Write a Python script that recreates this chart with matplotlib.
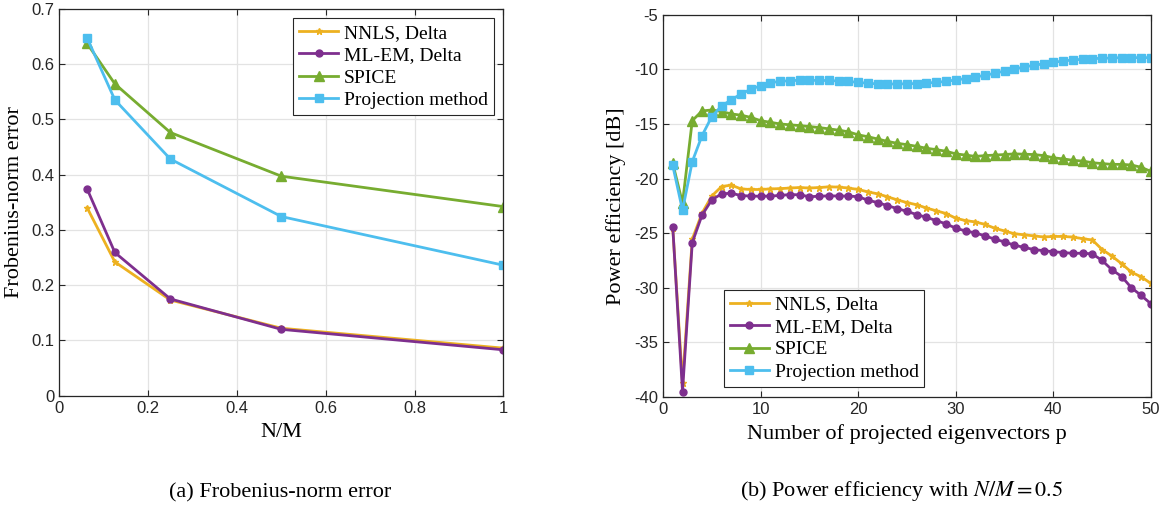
import matplotlib
matplotlib.use("Agg")
import matplotlib.pyplot as plt

# (a) Frobenius-norm error vs N/M
nm_ratio = [1 / 16, 1 / 8, 1 / 4, 1 / 2, 1]
frob_nnls = [0.340, 0.242, 0.173, 0.122, 0.086]
frob_mlem = [0.374, 0.259, 0.175, 0.120, 0.083]
frob_spice = [0.637, 0.564, 0.476, 0.397, 0.342]
frob_proj = [0.647, 0.535, 0.428, 0.324, 0.236]

# (b) Power efficiency [dB] vs number of projected eigenvectors p
p_vals = list(range(1, 51))
pe_nnls = [-24.5, -38.7, -25.55, -23.17, -21.6, -20.73, -20.6, -20.95, -21.0, -21.0,
           -20.95, -20.92, -20.87, -20.82, -20.87, -20.82, -20.76, -20.78, -20.87, -21.0,
           -21.22, -21.4, -21.67, -21.95, -22.2, -22.4, -22.7, -22.95, -23.2, -23.63,
           -23.85, -23.97, -24.2, -24.55, -24.8, -25.05, -25.15, -25.25, -25.35, -25.3,
           -25.3, -25.36, -25.5, -25.63, -26.5, -27.1, -27.8, -28.57, -29.0, -29.6]
pe_mlem = [-24.4, -39.5, -25.86, -23.35, -21.95, -21.4, -21.34, -21.56, -21.6, -21.62,
           -21.6, -21.55, -21.46, -21.49, -21.66, -21.62, -21.58, -21.6, -21.6, -21.66,
           -21.98, -22.2, -22.48, -22.75, -23.0, -23.3, -23.55, -23.85, -24.15, -24.54,
           -24.8, -24.97, -25.25, -25.55, -25.8, -26.1, -26.3, -26.5, -26.6, -26.7,
           -26.77, -26.85, -26.83, -26.9, -27.5, -28.35, -28.97, -30.0, -30.7, -31.47]
pe_spice = [-18.6, -22.25, -14.7, -13.81, -13.72, -13.87, -14.08, -14.2, -14.4, -14.7,
            -14.85, -15.0, -15.08, -15.15, -15.24, -15.33, -15.45, -15.57, -15.72, -16.0,
            -16.17, -16.38, -16.6, -16.77, -16.9, -17.05, -17.23, -17.35, -17.5, -17.74,
            -17.85, -17.97, -17.9, -17.85, -17.8, -17.74, -17.77, -17.8, -17.9, -18.1,
            -18.2, -18.33, -18.4, -18.55, -18.63, -18.7, -18.7, -18.76, -18.97, -19.35]
pe_proj = [-18.8, -22.9, -18.45, -16.07, -14.33, -13.35, -12.8, -12.25, -11.83, -11.5,
           -11.22, -11.1, -11.04, -11.0, -11.0, -11.02, -11.02, -11.07, -11.1, -11.2,
           -11.27, -11.34, -11.34, -11.34, -11.32, -11.3, -11.25, -11.2, -11.1, -10.97,
           -10.85, -10.7, -10.55, -10.36, -10.15, -9.97, -9.79, -9.63, -9.5, -9.36,
           -9.24, -9.14, -9.08, -9.02, -8.99, -8.96, -8.93, -8.93, -8.93, -8.93]

labels = ["NNLS, Delta", "ML-EM, Delta", "SPICE", "Projection method"]
colors = ["#EDB120", "#7E2F8E", "#77AC30", "#4DBEEE"]
markers = ["*", "o", "^", "s"]
msizes = [5, 5, 7, 6]

plt.rcParams["font.family"] = ["Liberation Sans", "DejaVu Sans"]
plt.rcParams["mathtext.fontset"] = "stix"
plt.rcParams["axes.unicode_minus"] = False
serif = ["Liberation Serif", "DejaVu Serif"]

fig = plt.figure(figsize=(11.66, 5.09), dpi=100)
ax1 = fig.add_axes([0.0509, 0.2226, 0.3808, 0.7604])
ax2 = fig.add_axes([0.5686, 0.2200, 0.4185, 0.7511])


def style_axes(ax):
    ax.grid(True, color="#e3e3e3", linewidth=0.9)
    ax.set_axisbelow(True)
    for s in ax.spines.values():
        s.set_color("#262626")
        s.set_linewidth(0.9)
    ax.tick_params(direction="in", top=True, right=True, length=4,
                   labelsize=12, colors="#262626", width=0.8)


series_a = [frob_nnls, frob_mlem, frob_spice, frob_proj]
for ys, lab, c, m, ms in zip(series_a, labels, colors, markers, msizes):
    ax1.plot(nm_ratio, ys, color=c, marker=m, markersize=ms, linewidth=2, label=lab)
ax1.set_xlim(0, 1)
ax1.set_ylim(0, 0.7)
ax1.set_xticks([0, 0.2, 0.4, 0.6, 0.8, 1])
ax1.set_xticklabels(["0", "0.2", "0.4", "0.6", "0.8", "1"])
ax1.set_yticks([0, 0.1, 0.2, 0.3, 0.4, 0.5, 0.6, 0.7])
ax1.set_yticklabels(["0", "0.1", "0.2", "0.3", "0.4", "0.5", "0.6", "0.7"])
style_axes(ax1)
ax1.set_xlabel("N/M", family=serif, fontsize=16, labelpad=5)
ax1.set_ylabel("Frobenius-norm error", family=serif, fontsize=16, labelpad=5)
leg1 = ax1.legend(loc="upper right", prop={"family": serif, "size": 14},
                  fancybox=False, edgecolor="#262626", framealpha=1,
                  handlelength=2.0, handletextpad=0.3, borderpad=0.3,
                  labelspacing=0.25, borderaxespad=0.5)
leg1.get_frame().set_linewidth(0.8)

series_b = [pe_nnls, pe_mlem, pe_spice, pe_proj]
for ys, lab, c, m, ms in zip(series_b, labels, colors, markers, msizes):
    ax2.plot(p_vals, ys, color=c, marker=m, markersize=ms, linewidth=2, label=lab)
ax2.set_xlim(0, 50)
ax2.set_ylim(-40, -5)
ax2.set_xticks([0, 10, 20, 30, 40, 50])
ax2.set_yticks([-40, -35, -30, -25, -20, -15, -10, -5])
style_axes(ax2)
ax2.set_xlabel("Number of projected eigenvectors p", family=serif, fontsize=16, labelpad=5)
ax2.set_ylabel("Power efficiency [dB]", family=serif, fontsize=16, labelpad=6)
leg2 = ax2.legend(loc="lower left", bbox_to_anchor=(0.125, 0.027),
                  prop={"family": serif, "size": 14},
                  fancybox=False, edgecolor="#262626", framealpha=1,
                  handlelength=2.0, handletextpad=0.3, borderpad=0.3,
                  labelspacing=0.25, borderaxespad=0.0)
leg2.get_frame().set_linewidth(0.8)

fig.text(0.240, 0.012, "(a) Frobenius-norm error", family=serif, fontsize=16,
         ha="center", va="bottom")
fig.text(0.773, 0.012, "(b) Power efficiency with $N/M = 0.5$", family=serif,
         fontsize=16, ha="center", va="bottom")

fig.savefig("out.png", dpi=100)
